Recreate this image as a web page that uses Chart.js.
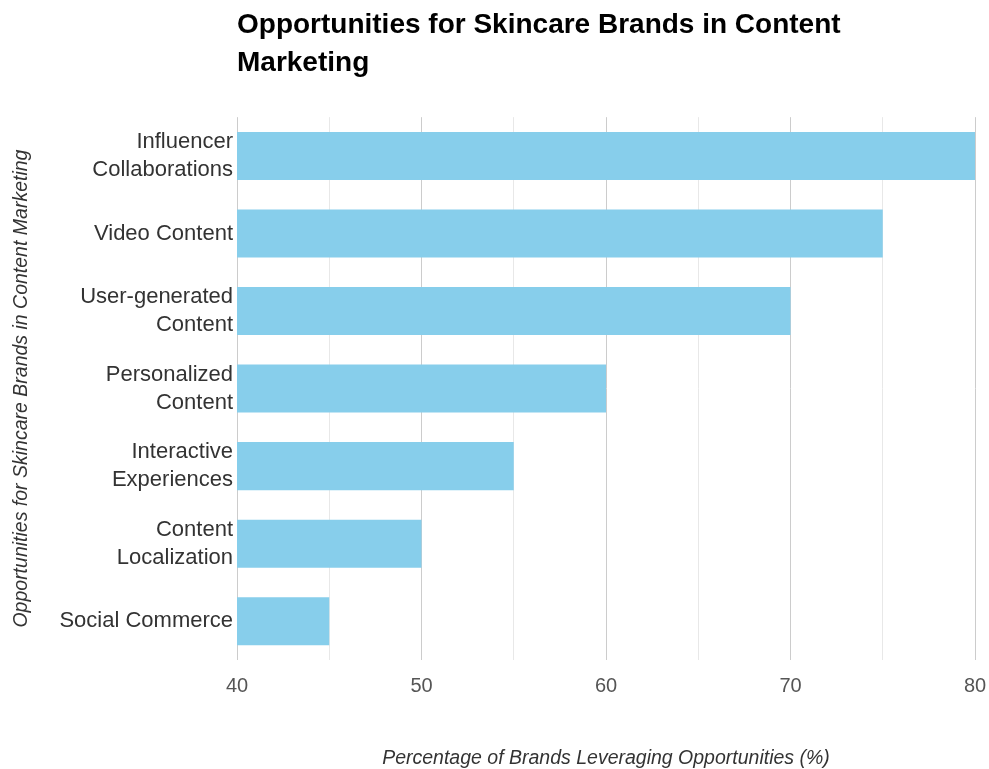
<!DOCTYPE html>
<html>
<head>
<meta charset="utf-8">
<script src="https://cdn.jsdelivr.net/npm/chart.js@4.4.1/dist/chart.umd.min.js"></script>
<style>
  html, body { margin: 0; padding: 0; background: #ffffff; }
  #wrap { width: 989px; height: 769px; }
</style>
</head>
<body>
<div id="wrap"><canvas id="chart" width="989" height="769"></canvas></div>
<script>
// Opportunity categories (top to bottom)
const categories = [
  ['Influencer', 'Collaborations'],
  'Video Content',
  ['User-generated', 'Content'],
  ['Personalized', 'Content'],
  ['Interactive', 'Experiences'],
  ['Content', 'Localization'],
  'Social Commerce'
];

// Share of brands leveraging each opportunity (%)
const brandShare = [80, 75, 70, 60, 55, 50, 45];

// Value axis range and labelled ticks
const axisMin = 40;
const axisMax = 80;
const tickStep = 5;
const labelledTicks = [40, 50, 60, 70, 80];

const FONT = '"Liberation Sans", Arial, Helvetica, sans-serif';

new Chart(document.getElementById('chart'), {
  type: 'bar',
  data: {
    labels: categories,
    datasets: [{
      label: 'Percentage of Brands Leveraging Opportunities (%)',
      data: brandShare,
      backgroundColor: '#87CEEB',
      borderWidth: 0,
      barPercentage: 0.62,
      categoryPercentage: 1.0
    }]
  },
  options: {
    indexAxis: 'y',
    responsive: false,
    devicePixelRatio: 1,
    animation: false,
    layout: { padding: { left: 10, right: 14, top: 0, bottom: 0 } },
    plugins: {
      legend: { display: false },
      tooltip: { enabled: false },
      title: {
        display: true,
        fullSize: false,
        align: 'start',
        text: ['Opportunities for Skincare Brands in Content', 'Marketing'],
        color: '#000000',
        font: { family: FONT, size: 28, weight: 'bold', lineHeight: 1.36 },
        padding: { top: 6, bottom: 35 }
      }
    },
    scales: {
      x: {
        type: 'linear',
        min: axisMin,
        max: axisMax,
        afterFit: (scale) => {
          // fixed axis band height; the end labels may overhang the plot edges
          scale.height = 109;
          scale.paddingLeft = 0;
          scale.paddingRight = 0;
        },
        ticks: {
          stepSize: tickStep,
          padding: 14,
          color: '#555555',
          font: { family: FONT, size: 20 },
          callback: (v) => labelledTicks.includes(v) ? String(v) : ''
        },
        grid: {
          drawTicks: false,
          lineWidth: 1,
          color: (ctx) => (ctx.tick && labelledTicks.includes(ctx.tick.value)) ? '#cccccc' : '#e8e8e8'
        },
        border: { display: false },
        title: {
          display: true,
          text: 'Percentage of Brands Leveraging Opportunities (%)',
          color: '#333333',
          font: { family: FONT, size: 19.5, style: 'italic', lineHeight: 1.05 },
          padding: { top: 0, bottom: 0 }
        }
      },
      y: {
        afterFit: (scale) => { scale.width = 227; },
        ticks: {
          padding: 4,
          color: '#333333',
          font: { family: FONT, size: 22, lineHeight: 1.27 }
        },
        grid: { display: false, drawTicks: false },
        border: { display: false },
        title: {
          display: true,
          text: 'Opportunities for Skincare Brands in Content Marketing',
          color: '#333333',
          font: { family: FONT, size: 19.5, style: 'italic' },
          padding: { top: 0, bottom: 0 }
        }
      }
    }
  }
});
</script>
</body>
</html>
